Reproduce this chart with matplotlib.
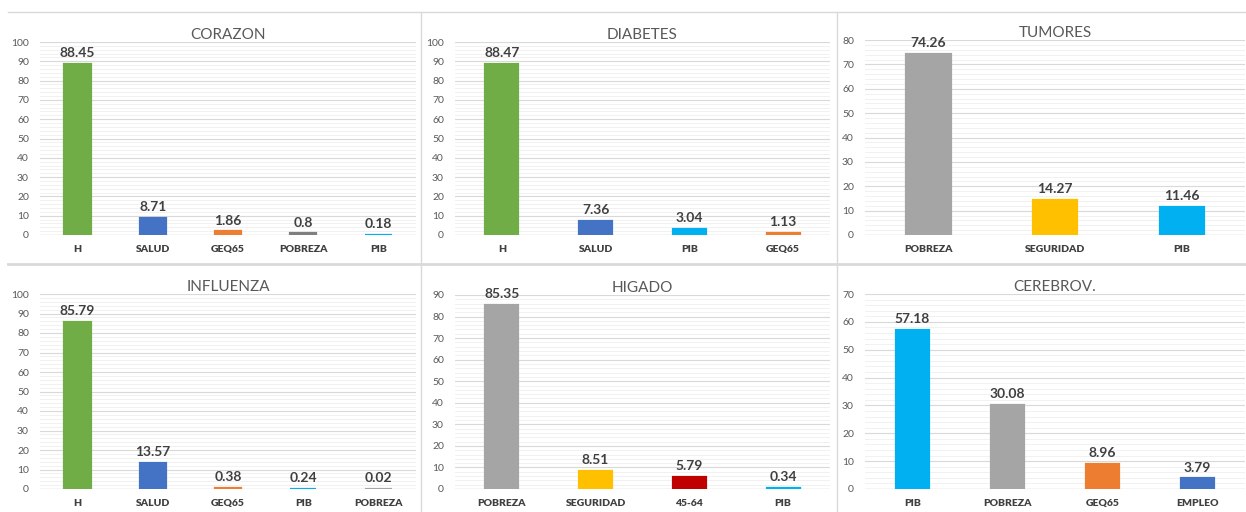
import matplotlib.pyplot as plt
from matplotlib.lines import Line2D
from matplotlib.ticker import MultipleLocator

plt.rcParams['font.family'] = ['Lato', 'DejaVu Sans']

GREEN = '#70AD47'
BLUE = '#4472C4'
ORANGE = '#ED7D31'
DGRAY = '#7F7F7F'
GRAY = '#A5A5A5'
CYAN = '#00B0F0'
GOLD = '#FFC000'
RED = '#C00000'

# values per cause of death
corazon_cats = ['H', 'SALUD', 'GEQ65', 'POBREZA', 'PIB']
corazon_vals = [88.45, 8.71, 1.86, 0.8, 0.18]

diabetes_cats = ['H', 'SALUD', 'PIB', 'GEQ65']
diabetes_vals = [88.47, 7.36, 3.04, 1.13]

tumores_cats = ['POBREZA', 'SEGURIDAD', 'PIB']
tumores_vals = [74.26, 14.27, 11.46]

influenza_cats = ['H', 'SALUD', 'GEQ65', 'PIB', 'POBREZA']
influenza_vals = [85.79, 13.57, 0.38, 0.24, 0.02]

higado_cats = ['POBREZA', 'SEGURIDAD', '45-64', 'PIB']
higado_vals = [85.35, 8.51, 5.79, 0.34]

cerebrov_cats = ['PIB', 'POBREZA', 'GEQ65', 'EMPLEO']
cerebrov_vals = [57.18, 30.08, 8.96, 3.79]

W, H = 1246, 512
fig = plt.figure(figsize=(W / 100, H / 100), dpi=100)
fig.patch.set_facecolor('white')

def box(x0, x1, ytop, ybot):
    return [x0 / W, 1 - ybot / H, (x1 - x0) / W, (ybot - ytop) / H]

panels = [
    ('CORAZON', corazon_cats, corazon_vals,
     [GREEN, BLUE, ORANGE, DGRAY, CYAN], 100, box(40, 416, 42, 235)),
    ('DIABETES', diabetes_cats, diabetes_vals,
     [GREEN, BLUE, CYAN, ORANGE], 100, box(455, 830, 42, 235)),
    ('TUMORES', tumores_cats, tumores_vals,
     [GRAY, GOLD, CYAN], 80, box(865, 1245, 40, 235)),
    ('INFLUENZA', influenza_cats, influenza_vals,
     [GREEN, BLUE, ORANGE, CYAN, GRAY], 100, box(40, 416, 294, 489)),
    ('HIGADO', higado_cats, higado_vals,
     [GRAY, GOLD, RED, CYAN], 90, box(455, 830, 295, 489)),
    ('CEREBROV.', cerebrov_cats, cerebrov_vals,
     [CYAN, GRAY, ORANGE, BLUE], 70, box(865, 1245, 294, 489)),
]

for title, cats, vals, cols, ymax, pos in panels:
    ax = fig.add_axes(pos)
    x = list(range(len(cats)))
    ax.bar(x, vals, width=0.35, color=cols, edgecolor=cols, linewidth=1.6, zorder=3)
    for xi, v in zip(x, vals):
        ax.annotate(f'{v:g}', (xi, v), xytext=(0, 3.5), textcoords='offset points',
                    ha='center', va='bottom', fontsize=10, fontweight='bold',
                    color='#404040', zorder=4)
    ax.set_xlim(-0.5, len(cats) - 0.5)
    ax.set_ylim(0, ymax)
    ax.yaxis.set_major_locator(MultipleLocator(10))
    ax.yaxis.set_minor_locator(MultipleLocator(2))
    ax.grid(axis='y', which='major', color='#D9D9D9', linewidth=0.8, zorder=0)
    ax.grid(axis='y', which='minor', color='#EFEFEF', linewidth=0.6, zorder=0)
    ax.set_axisbelow(True)
    for s in ax.spines.values():
        s.set_visible(False)
    ax.axhline(0, color='#D9D9D9', linewidth=1.0, zorder=2)
    ax.set_xticks(x)
    ax.set_xticklabels(cats, fontsize=7.5, fontweight='heavy', color='#404040')
    ax.tick_params(axis='x', length=0, pad=7)
    ax.tick_params(axis='y', which='both', length=0, labelsize=7.5,
                   labelcolor='#595959', pad=8)
    ax.set_title(title, fontsize=11, color='#595959', pad=2)

# sheet-style frame lines between the panels
lc = '#D9D9D9'
fig.add_artist(Line2D([8 / W, 1], [1 - 12 / H] * 2, color=lc, linewidth=1.0))
fig.add_artist(Line2D([8 / W, 1], [1 - 264 / H] * 2, color=lc, linewidth=2.0))
for xv in (421, 837):
    fig.add_artist(Line2D([xv / W] * 2, [0, 1 - 12 / H], color=lc, linewidth=1.0))

fig.savefig('out.png', dpi=100, facecolor='white')
